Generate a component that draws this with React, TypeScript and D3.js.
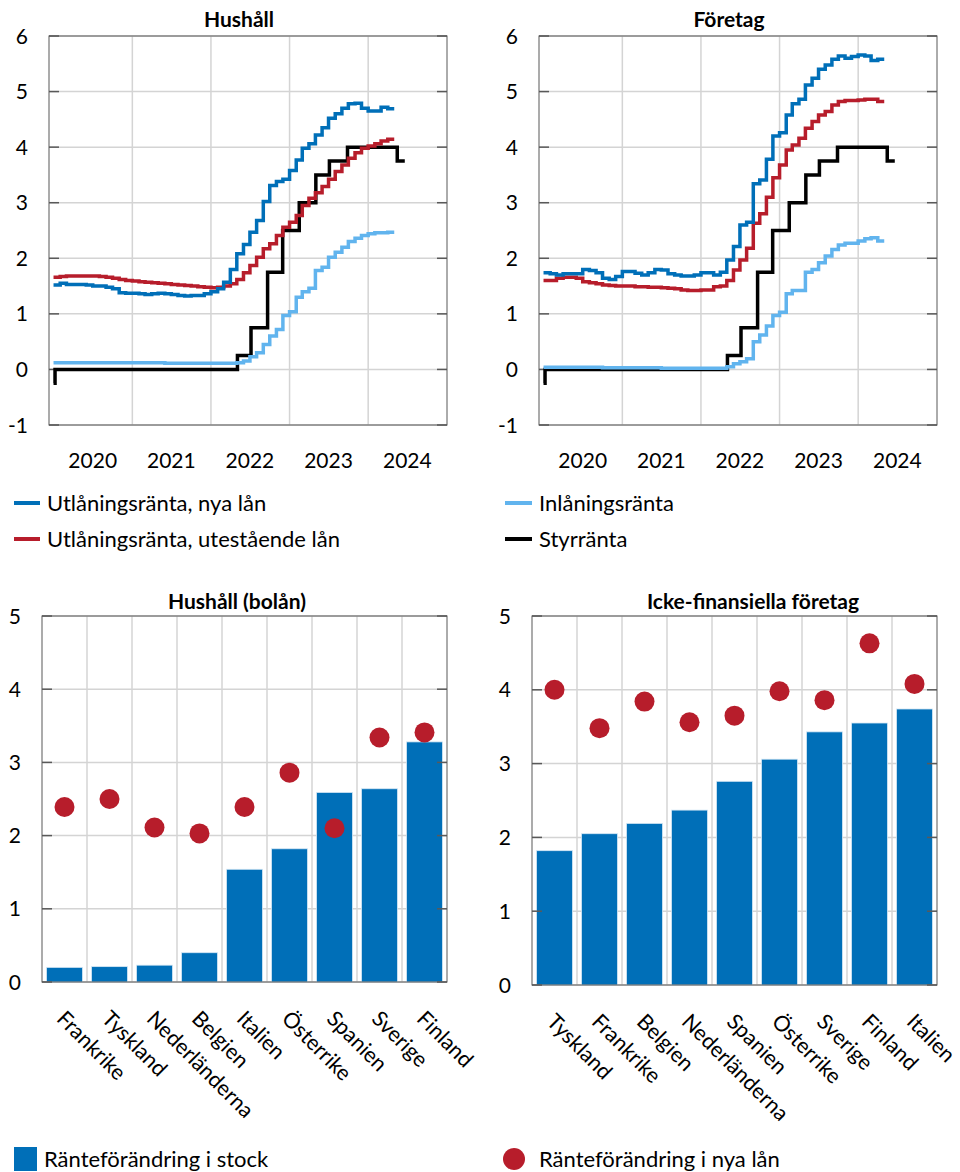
import * as d3 from "d3";
import React from "react";

// ---- data ----
// monthly averages, Jan 2020 – Apr 2024
const months = d3.timeMonth.range(new Date(2020, 0, 1), new Date(2024, 4, 1));
const monthsEnd = new Date(2024, 4, 1);

// Hushåll
const hhNyaLan = [
  1.52, 1.55, 1.53, 1.53, 1.53, 1.52, 1.5, 1.5, 1.48, 1.45, 1.38, 1.37,
  1.37, 1.36, 1.35, 1.36, 1.37, 1.36, 1.35, 1.33, 1.32, 1.33, 1.33, 1.36,
  1.4, 1.45, 1.57, 1.8, 2.08, 2.25, 2.47, 2.68, 3.02, 3.31, 3.38, 3.42,
  3.58, 3.77, 3.98, 4.06, 4.22, 4.35, 4.52, 4.6, 4.7, 4.78, 4.79, 4.7,
  4.65, 4.65, 4.72, 4.69,
];
const hhUtestaende = [
  1.66, 1.67, 1.68, 1.68, 1.68, 1.68, 1.68, 1.67, 1.66, 1.64, 1.62, 1.6,
  1.59, 1.58, 1.57, 1.56, 1.55, 1.54, 1.53, 1.52, 1.51, 1.5, 1.49, 1.48,
  1.47, 1.48, 1.5, 1.54, 1.62, 1.74, 1.87, 2.02, 2.17, 2.26, 2.41, 2.56,
  2.65, 2.77, 2.95, 3.08, 3.18, 3.29, 3.42, 3.56, 3.68, 3.8, 3.9, 3.98,
  4.02, 4.06, 4.11, 4.14,
];
const hhInlaning = [
  0.12, 0.12, 0.12, 0.12, 0.12, 0.12, 0.12, 0.12, 0.12, 0.12, 0.12, 0.12,
  0.12, 0.12, 0.12, 0.12, 0.12, 0.11, 0.11, 0.11, 0.11, 0.11, 0.11, 0.11,
  0.11, 0.11, 0.11, 0.11, 0.12, 0.15, 0.23, 0.3, 0.45, 0.6, 0.72, 0.97,
  1.04, 1.3, 1.4, 1.46, 1.78, 1.84, 2.02, 2.11, 2.2, 2.3, 2.36, 2.41,
  2.44, 2.46, 2.46, 2.47,
];

// Företag
const ftNyaLan = [
  1.74, 1.72, 1.7, 1.72, 1.72, 1.72, 1.8, 1.78, 1.74, 1.64, 1.62, 1.67,
  1.76, 1.76, 1.73, 1.7, 1.74, 1.8, 1.79, 1.72, 1.7, 1.68, 1.68, 1.7,
  1.74, 1.74, 1.7, 1.75, 1.97, 2.21, 2.6, 2.65, 3.34, 3.41, 3.78, 4.2,
  4.26, 4.58, 4.78, 4.86, 5.12, 5.24, 5.4, 5.48, 5.58, 5.64, 5.6, 5.63,
  5.66, 5.64, 5.56, 5.58,
];
const ftUtestaende = [
  1.6, 1.6, 1.64, 1.66, 1.66, 1.64, 1.58, 1.56, 1.54, 1.52, 1.51, 1.5,
  1.5, 1.5, 1.49, 1.49, 1.48, 1.48, 1.47, 1.46, 1.45, 1.43, 1.42, 1.42,
  1.43, 1.43, 1.49, 1.5, 1.6, 1.79, 1.97, 2.18, 2.63, 2.8, 3.1, 3.45,
  3.68, 3.95, 4.04, 4.16, 4.34, 4.46, 4.58, 4.64, 4.76, 4.82, 4.84, 4.84,
  4.85, 4.86, 4.86, 4.82,
];
const ftInlaning = [
  0.04, 0.04, 0.04, 0.04, 0.04, 0.04, 0.04, 0.04, 0.04, 0.03, 0.03, 0.03,
  0.03, 0.03, 0.03, 0.03, 0.03, 0.03, 0.02, 0.02, 0.02, 0.02, 0.02, 0.02,
  0.02, 0.02, 0.02, 0.02, 0.05, 0.1, 0.14, 0.19, 0.5, 0.62, 0.78, 0.97,
  1.03, 1.36, 1.42, 1.42, 1.75, 1.8, 1.92, 2.04, 2.16, 2.24, 2.27, 2.27,
  2.31, 2.35, 2.37, 2.31,
];

// Styrränta (changes)
const styrDates = [
  "2020-01-01", "2020-01-08", "2022-05-04", "2022-07-06", "2022-09-21", "2022-11-30",
  "2023-02-15", "2023-05-03", "2023-07-05", "2023-09-27", "2024-05-15", "2024-06-19",
];
const styrValues = [-0.25, 0, 0.25, 0.75, 1.75, 2.5, 3.0, 3.5, 3.75, 4.0, 3.75, 3.75];

const yearTicks = [2020, 2021, 2022, 2023, 2024];

// Hushåll (bolån)
const hhCountries = ["Frankrike", "Tyskland", "Nederländerna", "Belgien", "Italien", "Österrike", "Spanien", "Sverige", "Finland"];
const hhStock = [0.2, 0.21, 0.23, 0.4, 1.54, 1.82, 2.59, 2.64, 3.28];
const hhNew = [2.39, 2.5, 2.11, 2.03, 2.39, 2.86, 2.1, 3.34, 3.41];

// Icke-finansiella företag
const nfcCountries = ["Tyskland", "Frankrike", "Belgien", "Nederländerna", "Spanien", "Österrike", "Sverige", "Finland", "Italien"];
const nfcStock = [1.82, 2.05, 2.19, 2.37, 2.76, 3.06, 3.43, 3.55, 3.74];
const nfcNew = [4.0, 3.48, 3.84, 3.56, 3.65, 3.98, 3.86, 4.63, 4.08];

// ---- style ----
const FONT = "Lato, 'Open Sans', sans-serif";
const BLUE = "#006fb8";
const LIGHT = "#61b4ee";
const RED = "#b71d2b";
const BLACK = "#000000";
const GRID = "#d4d4d4";
const AXIS = "#595959";
const TICK_FS = 21;
const TEXT_FS = 22;
const CAT_FS = 21.5;
const TITLE_FS = 21;
const LW = 3.5;

function Frame({ l, r, t, b }: { l: number; r: number; t: number; b: number }) {
  return <rect x={l} y={t} width={r - l} height={b - t} fill="none" stroke={AXIS} strokeWidth={1} />;
}

function LinePanel({ left, title, titleX, nya, utest, inl }: any) {
  const right = left + 398;
  const top = 36;
  const bottom = 425;
  const x = d3.scaleTime().domain([new Date(2019, 11, 11), new Date(2025, 0, 1)]).range([left, right]);
  const y = d3.scaleLinear().domain([-1, 6]).range([bottom, top]);
  const line = d3
    .line<[Date, number]>()
    .x((d) => x(d[0]))
    .y((d) => y(d[1]))
    .curve(d3.curveStepAfter);
  const monthly = (vals: number[]) => {
    const pts: [Date, number][] = vals.map((v, i) => [months[i], v]);
    pts.push([monthsEnd, vals[vals.length - 1]]);
    return line(pts) as string;
  };
  const styr: [Date, number][] = styrDates.map((d, i) => [d3.timeParse("%Y-%m-%d")(d) as Date, styrValues[i]]);
  const yTicks = y.ticks(7);
  return (
    <g>
      <text x={titleX} y={27} textAnchor="middle" fontWeight="bold" fontSize={TITLE_FS} fontFamily={FONT}>
        {title}
      </text>
      {yTicks.map((t) => (
        <line key={"h" + t} x1={left} x2={right} y1={y(t)} y2={y(t)} stroke={GRID} strokeWidth={1.5} />
      ))}
      {yearTicks.slice(1).map((yr) => (
        <line key={"v" + yr} x1={x(new Date(yr, 0, 1))} x2={x(new Date(yr, 0, 1))} y1={top} y2={bottom} stroke={GRID} strokeWidth={1.5} />
      ))}
      <Frame l={left} r={right} t={top} b={bottom} />
      {yTicks.map((t) => (
        <g key={"t" + t}>
          <line x1={left} x2={left + 10} y1={y(t)} y2={y(t)} stroke={AXIS} strokeWidth={1.5} />
          <line x1={right - 10} x2={right} y1={y(t)} y2={y(t)} stroke={AXIS} strokeWidth={1.5} />
          <text x={left - 21} y={y(t)} dy="0.36em" textAnchor="end" fontSize={TICK_FS} fontFamily={FONT}>
            {t}
          </text>
        </g>
      ))}
      {yearTicks.map((yr) => (
        <text key={"y" + yr} x={x(new Date(yr, 6, 1))} y={468} textAnchor="middle" fontSize={TICK_FS} fontFamily={FONT}>
          {yr}
        </text>
      ))}
      <path d={line(styr) as string} fill="none" stroke={BLACK} strokeWidth={LW} />
      <path d={monthly(inl)} fill="none" stroke={LIGHT} strokeWidth={LW} />
      <path d={monthly(utest)} fill="none" stroke={RED} strokeWidth={LW} />
      <path d={monthly(nya)} fill="none" stroke={BLUE} strokeWidth={LW} />
    </g>
  );
}

function BarPanel({ left, bottom, title, titleX, cats, stock, nya }: any) {
  const right = left + 405;
  const top = 616;
  const x = d3.scaleBand<string>().domain(cats).range([left, right]).paddingInner(0.2).paddingOuter(0.1);
  const y = d3.scaleLinear().domain([0, 5]).range([bottom, top]);
  const yTicks = y.ticks(5);
  const step = x.step();
  return (
    <g>
      <text x={titleX} y={609} textAnchor="middle" fontWeight="bold" fontSize={TITLE_FS} fontFamily={FONT}>
        {title}
      </text>
      {yTicks.map((t) => (
        <line key={"h" + t} x1={left} x2={right} y1={y(t)} y2={y(t)} stroke={GRID} strokeWidth={1.5} />
      ))}
      {cats.slice(1).map((c: string, i: number) => (
        <line key={"v" + c} x1={left + step * (i + 1)} x2={left + step * (i + 1)} y1={top} y2={bottom} stroke={GRID} strokeWidth={1.5} />
      ))}
      {cats.map((c: string, i: number) => (
        <rect
          key={"b" + c}
          x={x(c)}
          y={y(stock[i])}
          width={x.bandwidth()}
          height={y(0) - y(stock[i])}
          fill={BLUE}
          stroke="#d6e8f5"
          strokeWidth={0.8}
        />
      ))}
      <Frame l={left} r={right} t={top} b={bottom} />
      {yTicks.map((t) => (
        <g key={"t" + t}>
          <line x1={left} x2={left + 10} y1={y(t)} y2={y(t)} stroke={AXIS} strokeWidth={1.5} />
          <line x1={right - 10} x2={right} y1={y(t)} y2={y(t)} stroke={AXIS} strokeWidth={1.5} />
          <text x={left - 21} y={y(t)} dy="0.36em" textAnchor="end" fontSize={TICK_FS} fontFamily={FONT}>
            {t}
          </text>
        </g>
      ))}
      {cats.map((c: string, i: number) => (
        <circle key={"d" + c} cx={(x(c) as number) + x.bandwidth() / 2} cy={y(nya[i])} r={10} fill={RED} />
      ))}
      {cats.map((c: string) => {
        const cx = (x(c) as number) + x.bandwidth() / 2 - 9;
        const cy = bottom + 38;
        return (
          <text key={"l" + c} x={cx} y={cy} transform={`rotate(45 ${cx} ${cy})`} fontSize={CAT_FS} fontFamily={FONT}>
            {c}
          </text>
        );
      })}
    </g>
  );
}

export default function App() {
  return (
    <svg width={960} height={1172} style={{ position: "absolute", left: 0, top: 0, background: "#fff" }}>
      <rect width={960} height={1172} fill="#fff" />
      <LinePanel left={49} title="Hushåll" titleX={239} nya={hhNyaLan} utest={hhUtestaende} inl={hhInlaning} />
      <LinePanel left={539} title="Företag" titleX={729} nya={ftNyaLan} utest={ftUtestaende} inl={ftInlaning} />

      {/* line legend */}
      <g fontFamily={FONT} fontSize={TEXT_FS}>
        <line x1={14} x2={40} y1={503} y2={503} stroke={BLUE} strokeWidth={4} />
        <text x={47} y={503} dy="0.35em">Utlåningsränta, nya lån</text>
        <line x1={14} x2={40} y1={539} y2={539} stroke={RED} strokeWidth={4} />
        <text x={47} y={539} dy="0.35em">Utlåningsränta, utestående lån</text>
        <line x1={505} x2={532} y1={503} y2={503} stroke={LIGHT} strokeWidth={4} />
        <text x={539} y={503} dy="0.35em">Inlåningsränta</text>
        <line x1={505} x2={532} y1={539} y2={539} stroke={BLACK} strokeWidth={4} />
        <text x={539} y={539} dy="0.35em">Styrränta</text>
      </g>

      <BarPanel left={42} bottom={982} title="Hushåll (bolån)" titleX={237} cats={hhCountries} stock={hhStock} nya={hhNew} />
      <BarPanel left={532} bottom={985} title="Icke-finansiella företag" titleX={753} cats={nfcCountries} stock={nfcStock} nya={nfcNew} />

      {/* bar legend */}
      <g fontFamily={FONT} fontSize={TEXT_FS}>
        <rect x={14} y={1147} width={23} height={24} fill={BLUE} />
        <text x={44} y={1159} dy="0.35em">Ränteförändring i stock</text>
        <circle cx={514} cy={1159} r={11} fill={RED} />
        <text x={539} y={1159} dy="0.35em">Ränteförändring i nya lån</text>
      </g>
    </svg>
  );
}
